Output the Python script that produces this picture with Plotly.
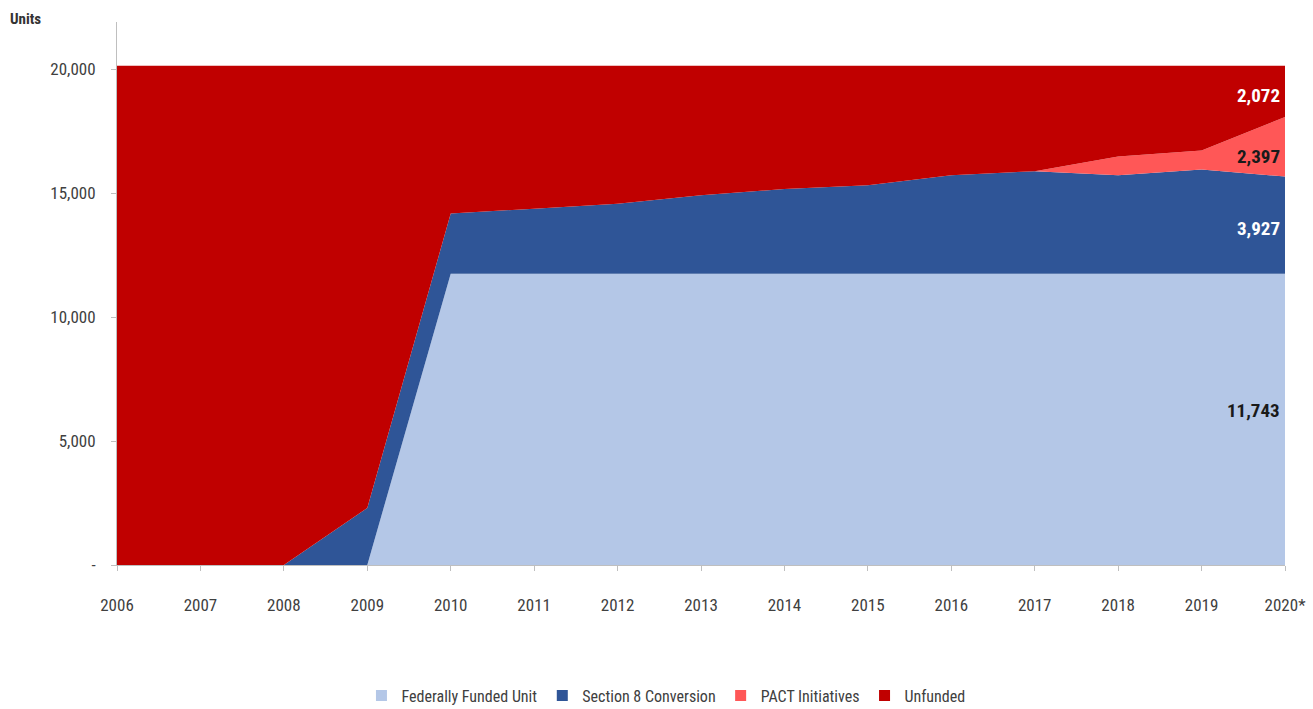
import plotly.graph_objects as go

# Units by funding source, 2006-2020
years = [2006, 2007, 2008, 2009, 2010, 2011, 2012, 2013, 2014, 2015, 2016, 2017, 2018, 2019, 2020]
year_labels = ["2006", "2007", "2008", "2009", "2010", "2011", "2012", "2013",
               "2014", "2015", "2016", "2017", "2018", "2019", "2020*"]

federally_funded = [0, 0, 0, 0, 11743, 11743, 11743, 11743, 11743, 11743, 11743, 11743, 11743, 11743, 11743]
section8_conversion = [0, 0, 0, 2300, 2430, 2630, 2830, 3170, 3420, 3570, 3980, 4140, 3980, 4210, 3927]
pact_initiatives = [0, 0, 0, 0, 0, 0, 0, 0, 0, 0, 0, 0, 750, 760, 2397]
unfunded = [20139, 20139, 20139, 17839, 5966, 5766, 5566, 5226, 4976, 4826, 4416, 4256, 3666, 3426, 2072]

y_ticks = [0, 5000, 10000, 15000, 20000]
y_tick_labels = ["-", "5,000", "10,000", "15,000", "20,000"]

FONT = "Liberation Sans Narrow, Roboto Condensed, Arial Narrow, Roboto, sans-serif"

series = [
    ("Federally Funded Unit", federally_funded, "#b4c7e7"),
    ("Section 8 Conversion", section8_conversion, "#2f5597"),
    ("PACT Initiatives", pact_initiatives, "#ff5757"),
    ("Unfunded", unfunded, "#c00000"),
]

fig = go.Figure()
for name, values, color in series:
    fig.add_trace(go.Scatter(
        x=years, y=values, name=name, mode="lines",
        stackgroup="units", line=dict(width=0, color=color),
        fillcolor=color, hoverinfo="x+y+name", showlegend=False,
    ))

# Square legend keys
for name, values, color in series:
    fig.add_trace(go.Scatter(
        x=[None], y=[None], name=name, mode="markers",
        marker=dict(symbol="square", size=11, color=color),
        showlegend=True, hoverinfo="skip",
    ))

# Value labels for the final year, placed inside each band
cum = 0
label_colors = ["#1a1a1a", "#ffffff", "#1a1a1a", "#ffffff"]
label_shifts = [9, -3, -10, -4]
for (name, values, color), lc, ys in zip(series, label_colors, label_shifts):
    v = values[-1]
    mid = cum + v / 2
    cum += v
    fig.add_annotation(
        x=years[-1], y=mid, xref="x", yref="y",
        text=f"<b>{v:,}</b>", showarrow=False,
        xanchor="right", xshift=-3, yshift=ys,
        font=dict(family=FONT, size=19, color=lc),
    )

fig.add_annotation(
    x=-0.093, y=1.006, xref="paper", yref="paper", xanchor="left", yanchor="middle",
    text="<b>Units</b>", showarrow=False,
    font=dict(family=FONT, size=15, color="#333333"),
)

fig.update_layout(
    width=1313, height=709,
    margin=dict(l=117, r=28, t=22, b=144, autoexpand=False),
    paper_bgcolor="white", plot_bgcolor="white",
    font=dict(family=FONT, size=17, color="#404040"),
    showlegend=True,
    legend=dict(
        orientation="h", x=0.47, xanchor="center", y=-0.272, yanchor="bottom",
        font=dict(family=FONT, size=16, color="#404040"),
        traceorder="normal", itemwidth=30, tracegroupgap=0,
    ),
    xaxis=dict(
        range=[2006, 2020], tickvals=years, ticktext=year_labels,
        showgrid=False, zeroline=False,
        showline=True, linecolor="#bfbfbf", linewidth=1,
        ticks="outside", ticklen=5, tickcolor="#bfbfbf",
        tickfont=dict(family=FONT, size=17, color="#404040"),
        ticklabelstandoff=20,
    ),
    yaxis=dict(
        range=[0, 21900], tickvals=y_ticks, ticktext=y_tick_labels,
        showgrid=False, zeroline=False,
        showline=True, linecolor="#bfbfbf", linewidth=1,
        ticks="outside", ticklen=5, tickcolor="#bfbfbf",
        tickfont=dict(family=FONT, size=17, color="#404040"),
        ticklabelstandoff=12,
    ),
)

fig.write_html("out.html")
